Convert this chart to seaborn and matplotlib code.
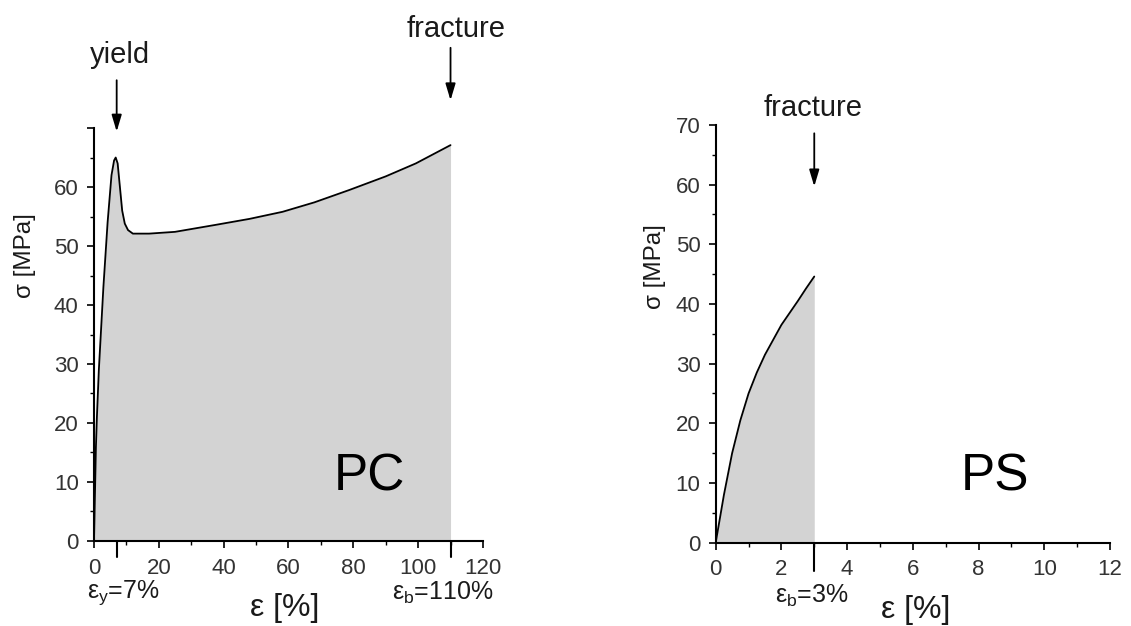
import matplotlib
matplotlib.use("Agg")
import matplotlib.pyplot as plt
import seaborn as sns
import pandas as pd
from matplotlib.ticker import MultipleLocator
import matplotlib.transforms as mtransforms

# ---------------- data ----------------
pc_strain = [0, 0.3, 0.6, 0.9, 1.5, 2.9, 4.2, 5.4, 6.2, 6.7, 7.3, 8.0, 8.7, 9.5, 10.5, 12,
             17, 25, 37.7, 48, 58.2, 68, 78.8, 90, 99.3, 110]
pc_stress = [0, 8, 16, 21, 29, 43, 54, 62, 64.5, 65, 64, 60, 56, 53.8, 52.7, 52.1,
             52.1, 52.4, 53.6, 54.6, 55.8, 57.4, 59.5, 61.8, 64, 67.1]

ps_strain = [0, 0.25, 0.5, 0.75, 1.0, 1.25, 1.5, 1.75, 2.0, 2.25, 2.5, 2.75, 3.0]
ps_stress = [0, 8, 15, 20.5, 25, 28.5, 31.5, 34, 36.5, 38.5, 40.5, 42.6, 44.6]

pc_yield_strain = 7
pc_break_strain = 110
ps_break_strain = 3

pc_xticks = [0, 20, 40, 60, 80, 100, 120]
ps_xticks = [0, 2, 4, 6, 8, 10, 12]
yticks = [0, 10, 20, 30, 40, 50, 60, 70]
pc_yticklabels = ["0", "10", "20", "30", "40", "50", "60", ""]
ps_yticklabels = ["0", "10", "20", "30", "40", "50", "60", "70"]

# ---------------- style ----------------
sns.set_theme(style="ticks")
plt.rcParams["font.family"] = ["Liberation Sans", "DejaVu Sans"]
plt.rcParams["mathtext.fontset"] = "custom"
plt.rcParams["mathtext.rm"] = "Liberation Sans"
plt.rcParams["mathtext.it"] = "Liberation Sans:italic"

TXT = "#1a1a1a"
FILL = "#d3d3d3"

fig = plt.figure(figsize=(11.31, 6.26), dpi=100)
ax1 = fig.add_axes([0.0831, 0.1358, 0.3439, 0.6597])
ax2 = fig.add_axes([0.6328, 0.1331, 0.3486, 0.6673])

df_pc = pd.DataFrame({"strain": pc_strain, "stress": pc_stress})
df_ps = pd.DataFrame({"strain": ps_strain, "stress": ps_stress})

for ax, df in ((ax1, df_pc), (ax2, df_ps)):
    ax.fill_between(df["strain"], 0, df["stress"], color=FILL, lw=0, zorder=1)
    sns.lineplot(data=df, x="strain", y="stress", ax=ax, color="black", lw=1.3,
                 sort=False, estimator=None, zorder=3)
    ax.set_ylim(0, 70)
    ax.set_yticks(yticks)
    ax.yaxis.set_minor_locator(MultipleLocator(5))
    for s in ("top", "right"):
        ax.spines[s].set_visible(False)
    for s in ("left", "bottom"):
        ax.spines[s].set_linewidth(1.5)
        ax.spines[s].set_color("black")
    ax.tick_params(which="major", direction="out", length=5, width=1.2,
                   labelsize=16, labelcolor="#333333", color="black")
    ax.tick_params(axis="y", which="major", pad=6)
    ax.tick_params(axis="x", which="major", pad=7)
    ax.tick_params(which="minor", direction="out", length=3, width=1.0, color="black")
    ax.set_xlabel("")
    ax.set_ylabel("")

# left panel axes
ax1.set_xlim(0, 120)
ax1.set_xticks(pc_xticks)
ax1.xaxis.set_minor_locator(MultipleLocator(10))
ax1.set_yticklabels(pc_yticklabels)

# right panel axes
ax2.set_xlim(0, 12)
ax2.set_xticks(ps_xticks)
ax2.xaxis.set_minor_locator(MultipleLocator(1))
ax2.set_yticklabels(ps_yticklabels)

# axis labels
ax1.set_ylabel("σ [MPa]", fontsize=17.5, color=TXT, va="center")
ax1.yaxis.set_label_coords(-0.177, 0.69)
ax2.set_ylabel("σ [MPa]", fontsize=17.5, color=TXT, va="center")
ax2.yaxis.set_label_coords(-0.154, 0.66)
ax1.set_xlabel("ε [%]", fontsize=23, color=TXT, va="center")
ax1.xaxis.set_label_coords(0.49, -0.163)
ax2.set_xlabel("ε [%]", fontsize=23, color=TXT, va="center")
ax2.xaxis.set_label_coords(0.506, -0.16)

# long marker ticks below axis
def long_tick(ax, x, length_px):
    trans = mtransforms.blended_transform_factory(ax.transData, ax.transAxes)
    h = length_px / (ax.get_position().height * fig.get_figheight() * fig.dpi)
    ax.plot([x, x], [0, -h], transform=trans, color="black", lw=1.5,
            clip_on=False, zorder=5)

long_tick(ax1, pc_yield_strain, 16)
long_tick(ax1, pc_break_strain, 16)
long_tick(ax2, ps_break_strain, 28)

# strain annotations
t1 = mtransforms.blended_transform_factory(ax1.transData, ax1.transAxes)
t2 = mtransforms.blended_transform_factory(ax2.transData, ax2.transAxes)
ax1.text(8.9, -0.126, r"$\mathregular{ε_y}$=7%", transform=t1,
         fontsize=18, color=TXT, ha="center", va="center")
ax1.text(107.5, -0.126, r"$\mathregular{ε_b}$=110%", transform=t1,
         fontsize=18, color=TXT, ha="center", va="center")
ax2.text(2.93, -0.128, r"$\mathregular{ε_b}$=3%", transform=t2,
         fontsize=18, color=TXT, ha="center", va="center")

# arrows + labels
arrow = dict(arrowstyle="-|>,head_length=1.0,head_width=0.3", mutation_scale=10,
             lw=1.3, color="black", shrinkA=0, shrinkB=0)
ax1.annotate("", xy=(pc_yield_strain, 69.4), xytext=(pc_yield_strain, 78.1),
             arrowprops=arrow, annotation_clip=False)
ax1.text(8.0, 81.0, "yield", fontsize=21, color=TXT, ha="center", va="baseline", clip_on=False)
ax1.annotate("", xy=(pc_break_strain, 74.7), xytext=(pc_break_strain, 83.6),
             arrowprops=arrow, annotation_clip=False)
ax1.text(111.7, 85.4, "fracture", fontsize=21, color=TXT, ha="center", va="baseline", clip_on=False)
ax2.annotate("", xy=(ps_break_strain, 59.7), xytext=(ps_break_strain, 68.6),
             arrowprops=arrow, annotation_clip=False)
ax2.text(2.96, 71.5, "fracture", fontsize=21, color=TXT, ha="center", va="baseline", clip_on=False)

# material labels
ax1.text(85, 10.8, "PC", fontsize=37, color="black", ha="center", va="center")
ax2.text(8.5, 11, "PS", fontsize=37, color="black", ha="center", va="center")

fig.savefig("out.png", dpi=100)
